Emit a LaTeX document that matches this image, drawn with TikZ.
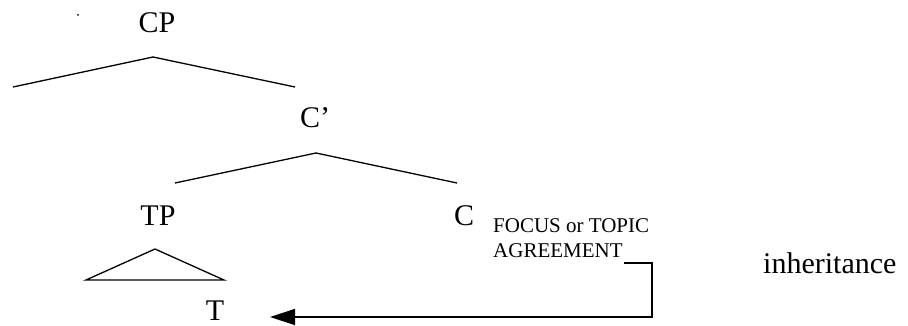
\documentclass[tikz,border=0pt]{standalone}
\usepackage{fontspec}
\setmainfont{Liberation Serif}
\usetikzlibrary{arrows.meta}
\begin{document}
\begin{tikzpicture}[x=1pt,y=-1pt,
  big/.style={font=\fontsize{30}{32}\selectfont, inner sep=0pt, anchor=base},
  small/.style={font=\fontsize{21}{24}\selectfont, inner sep=0pt, anchor=base west},
  ln/.style={line width=1.3pt}]
\useasboundingbox (0,0) rectangle (908,326);
\fill (78,15) circle (1pt);
% labels
\node[big] (cp) at (157,33) {CP};
\node[big] (cbar) at (315,128) {C’};
\node[big] (tp) at (158,225) {TP};
\node[big] (c) at (464,225) {C};
\node[small] (focus) at (493,232) {FOCUS or TOPIC};
\node[small] (agr) at (493,257) {AGREEMENT};
\node[big] (t) at (215,320) {T};
\node[big, anchor=base west] (inh) at (763,273) {inheritance};
% CP branches
\coordinate (cpa) at (153,57);
\coordinate (cpl) at (13,87);
\coordinate (cpr) at (295,87);
\draw[ln] (cpl) -- (cpa) -- (cpr);
% C' branches
\coordinate (cba) at (316,153);
\coordinate (cbl) at (175,183);
\coordinate (cbr) at (457,183);
\draw[ln] (cbl) -- (cba) -- (cbr);
% triangle under TP
\coordinate (tra) at (155,249);
\coordinate (trl) at (86,280);
\coordinate (trr) at (224,280);
\draw[ln] (trl) -- (tra) -- (trr) -- cycle;
% inheritance arrow
\coordinate (k1) at (624,263);
\coordinate (k2) at (652,263);
\coordinate (k3) at (652,317);
\coordinate (tip) at (270,317);
\draw[ln, -{Triangle[length=25pt,width=16pt]}] (k1) -- (k2) -- (k3) -- (tip);
\end{tikzpicture}
\end{document}
